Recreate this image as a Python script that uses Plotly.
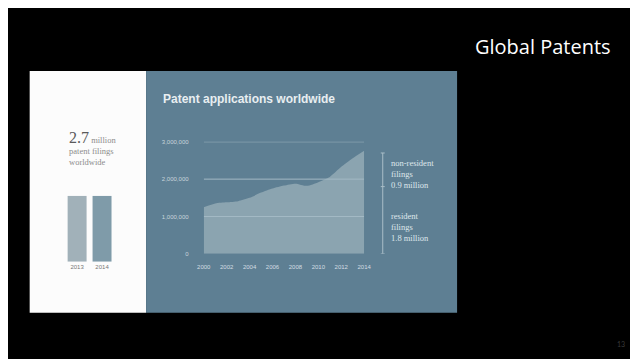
import plotly.graph_objects as go

# ---- data ----
years = [2000, 2001, 2002, 2003, 2004, 2005, 2006, 2007, 2008, 2009, 2010, 2011, 2012, 2013, 2014]
applications = [1250000, 1350000, 1380000, 1410000, 1500000, 1640000, 1750000, 1830000, 1880000,
                1820000, 1920000, 2060000, 2330000, 2560000, 2760000]
y_ticks = [0, 1000000, 2000000, 3000000]
y_tick_text = ["0", "1,000,000", "2,000,000", "3,000,000"]
x_ticks = [2000, 2002, 2004, 2006, 2008, 2010, 2012, 2014]
bar_years = ["2013", "2014"]
bar_values = [2.7, 2.7]
resident = 1800000
non_resident = 900000

W, H = 638, 359
def px(x):
    return x / W
def py(y):
    return 1 - y / H

BLUE = "#5e7f93"
AREA = "#8ba4b0"
GRID = "#a3b9c4"
LIGHT = "#dfe7ec"

fig = go.Figure()

# area chart
fig.add_trace(go.Scatter(
    x=years, y=applications, mode="lines", line=dict(width=0, shape="spline", smoothing=0.6),
    fill="tozeroy", fillcolor=AREA, xaxis="x2", yaxis="y2", hoverinfo="skip", showlegend=False))

# left bars
fig.add_trace(go.Bar(
    x=bar_years, y=bar_values, marker=dict(color=["#a1b1b9", "#7f9ba9"], line=dict(width=0)),
    xaxis="x", yaxis="y", showlegend=False, hoverinfo="skip"))

shapes = [
    dict(type="rect", xref="paper", yref="paper", x0=px(15), x1=px(134), y0=py(307), y1=py(61),
         fillcolor="#fcfcfc", line=dict(width=0), layer="below"),
    dict(type="rect", xref="paper", yref="paper", x0=px(134), x1=px(452), y0=py(307), y1=py(61),
         fillcolor=BLUE, line=dict(width=0), layer="below"),
]
# gridlines (drawn above the area)
for v in y_ticks[1:]:
    shapes.append(dict(type="line", xref="x2", yref="y2", x0=years[0], x1=years[-1], y0=v, y1=v,
                       line=dict(color=GRID, width=1), layer="above"))
# bracket
bx = px(376)
tw = 2.0 / W
total = resident + non_resident
shapes.append(dict(type="line", xref="paper", yref="y2", x0=bx, x1=bx, y0=0, y1=total,
                   line=dict(color="#a9bdc7", width=1)))
for v in [0, resident, total]:
    shapes.append(dict(type="line", xref="paper", yref="y2", x0=bx - tw, x1=bx + tw, y0=v, y1=v,
                       line=dict(color="#a9bdc7", width=1)))

annotations = [
    dict(text="Global Patents", x=px(611), y=py(36), xref="paper", yref="paper", xanchor="right",
         yanchor="middle", showarrow=False, font=dict(family="Open Sans", size=20, color="#ffffff")),
    dict(text="13", x=px(620), y=py(339), xref="paper", yref="paper", xanchor="center",
         yanchor="middle", showarrow=False, font=dict(family="Lato", size=7, color="#3a3a3a")),
    dict(text="<b>Patent applications worldwide</b>", x=px(149), y=py(90), xref="paper", yref="paper",
         xanchor="left", yanchor="middle", showarrow=False,
         font=dict(family="Liberation Sans", size=12, color="#e8eef1")),
    dict(text="<span style='font-size:16px;color:#5a5a5a'>2.7</span><span style='font-size:8.5px'> million</span><br>patent filings<br>worldwide",
         x=px(53), y=py(118), xref="paper", yref="paper", xanchor="left", yanchor="top", align="left",
         showarrow=False, font=dict(family="Liberation Serif", size=8.5, color="#8c8c8c")),
    dict(text="non-resident<br>filings<br>%.1f million" % (non_resident / 1e6), x=px(382),
         y=py(147), xref="paper", yref="paper", xanchor="left", yanchor="top", align="left",
         showarrow=False, font=dict(family="Liberation Serif", size=8.5, color=LIGHT)),
    dict(text="resident<br>filings<br>%.1f million" % (resident / 1e6), x=px(382),
         y=py(201), xref="paper", yref="paper", xanchor="left", yanchor="top", align="left",
         showarrow=False, font=dict(family="Liberation Serif", size=8.5, color=LIGHT)),
]

fig.update_layout(
    width=W, height=H, margin=dict(l=0, r=0, t=0, b=0),
    paper_bgcolor="#000000", plot_bgcolor="rgba(0,0,0,0)",
    shapes=shapes, annotations=annotations, bargap=0.24,
    xaxis=dict(domain=[px(50.75), px(101.75)], showgrid=False, zeroline=False, showline=False,
               ticks="", tickfont=dict(family="Liberation Sans", size=6, color="#777777")),
    yaxis=dict(domain=[py(255), py(188)], range=[0, 2.7], visible=False),
    xaxis2=dict(domain=[px(193), px(357)], range=[2000, 2014], tickvals=x_ticks,
                showgrid=False, zeroline=False, showline=False, anchor="y2",
                ticks="outside", ticklen=7, tickcolor="rgba(0,0,0,0)",
                tickfont=dict(family="Liberation Sans", size=6, color="#d2dde3")),
    yaxis2=dict(domain=[py(247), py(133)], range=[0, 3000000], tickvals=y_ticks, ticktext=y_tick_text,
                anchor="x2", showgrid=False, zeroline=False, showline=False,
                ticks="outside", ticklen=13, tickcolor="rgba(0,0,0,0)",
                tickfont=dict(family="Liberation Sans", size=6, color="#c8d5dc")),
)
fig.write_html("out.html")
